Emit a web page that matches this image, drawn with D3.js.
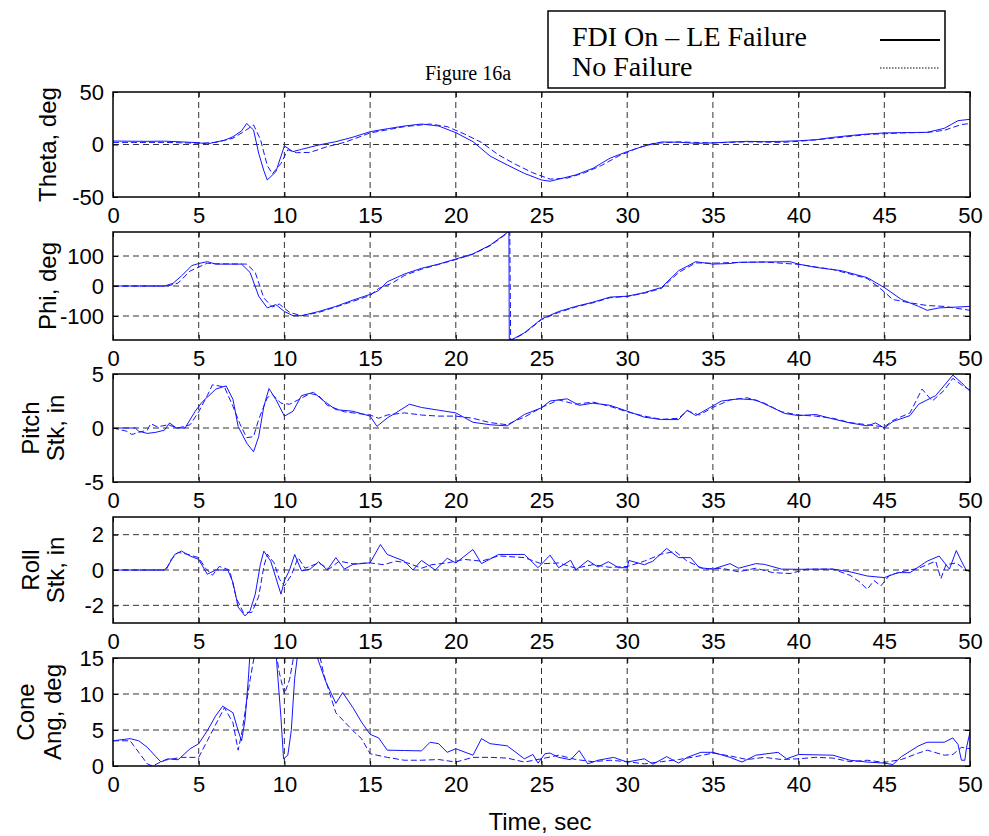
<!DOCTYPE html>
<html>
<head>
<meta charset="utf-8">
<script src="https://cdn.jsdelivr.net/npm/d3@7"></script>
<style>
  body { margin: 0; background: #fff; }
  svg { display: block; }
  .tick-label { font-family: Arial, "Liberation Sans", sans-serif; font-size: 22px; fill: #000; }
  .axis-title { font-family: Arial, "Liberation Sans", sans-serif; font-size: 24px; fill: #000; }
  .serif { font-family: "Times New Roman", "Liberation Serif", serif; fill: #000; }
</style>
</head>
<body>
<svg id="chart" width="989" height="836"></svg>
<script>
// time axis ticks (sec)
var timeTicks = [0, 5, 10, 15, 20, 25, 30, 35, 40, 45, 50];

// Theta, deg
var thetaFdi = [[0,3.3],[2,3],[3,3.2],[4,2.5],[5,1.7],[5.5,0.5],[6,2.4],[6.5,4],[7,7.4],[7.5,13],[7.8,20],[8.2,13.8],[8.5,-8.4],[8.8,-25],[9,-33.8],[9.5,-26],[10,-1.4],[10.5,-6.8],[11,-4.6],[12,-0.5],[13,2.7],[14,7],[15,12.2],[16,15],[17,17.6],[18,19.5],[19,17.6],[20,11.3],[21,2.7],[22,-11],[23,-19.5],[24,-27.5],[25,-33.8],[25.5,-35],[26,-33],[27,-29],[28,-22.7],[29,-13],[30,-6.8],[31,-1.4],[32,2.4],[33,2.2],[34,1.1],[35,1.5],[36,2.4],[37,3],[38,2.7],[39,3],[40,3.6],[41,4.5],[42,6.8],[43,8.5],[44,10],[45,11],[46,11.3],[47.5,11.6],[48.5,15.4],[49.3,22.7],[50,24]];
var thetaNoFail = [[0,2],[3,2],[5,1.2],[6,2],[7,6],[7.6,12],[8.2,18.6],[8.6,5],[9,-20],[9.3,-28],[9.8,-18],[10.2,-5],[10.7,-7.8],[11.5,-7.5],[12.5,-2],[13.5,2],[15,11],[17,17],[18.5,19.5],[19.5,17],[20.5,10],[21.5,2],[22.5,-10],[23.5,-19],[24.5,-27],[25.5,-33],[26.5,-32],[27.5,-27],[28.5,-20],[29.5,-11],[30.5,-4],[31.5,1],[33,2.5],[35,1.5],[37,2.5],[39,2],[40,3],[42,6],[44,9.5],[46,11],[47.5,11.5],[48.5,13.5],[49.5,19],[50,20]];

// Phi, deg
var phiFdi = [[0,0],[3,0],[3.5,9],[4,34],[4.6,68],[5,75],[5.5,81],[6,73],[7.5,73],[8,45],[8.5,-34],[9,-73],[9.5,-62],[10,-85],[10.5,-99],[11,-99],[12,-85],[13,-68],[14,-47],[15,-28],[15.5,-15],[16,14],[17,40],[18,59],[19,73],[20,90],[21,107],[22,136],[23,178],[23.1,180],[23.12,-180],[23.3,-178],[24,-156],[25,-110],[26,-85],[27,-68],[28,-54],[29,-37],[30,-34],[31,-22],[32,-5],[33,51],[34,81],[35,73],[36,75],[36.5,79],[38,80],[39.5,81],[40,73],[41,62],[42.5,51],[44,28],[45,-5],[46,-45],[47,-68],[47.5,-81],[48.2,-73],[50,-68]];
var phiNoFail = [[0,0],[3.2,0],[3.8,10],[4.5,50],[5.5,76],[6,74],[7.8,73],[8.3,45],[8.8,-40],[9.3,-70],[9.7,-60],[10.3,-88],[11,-99],[12,-88],[13,-70],[15,-32],[15.5,-8],[16.3,10],[17,35],[18,56],[19,72],[20,88],[21,106],[22,134],[23,176],[23.15,180],[23.2,-180],[23.4,-176],[24,-158],[25,-112],[26,-88],[27,-70],[28,-56],[29,-39],[30,-35],[31,-24],[32,-8],[33,45],[34,77],[35,76],[36,78],[38,80],[40,72],[42,55],[44,25],[44.8,-10],[45.5,-45],[46.5,-56],[47.5,-65],[48.5,-68],[50,-81]];

// Pitch stick, in
var pitchFdi = [[0,0],[1.3,0],[1.5,-0.3],[2,-0.5],[2.5,-0.4],[3,-0.2],[3.3,0.47],[3.7,0],[4.2,0],[4.8,1.56],[5.2,2.4],[6,3.6],[6.6,3.9],[7,2.65],[7.3,0.15],[7.8,-1.4],[8.2,-2.2],[8.5,-0.8],[8.8,2],[9.1,3.65],[9.5,2.65],[10,1.1],[10.5,1.55],[11,3],[11.7,3.3],[12.3,2.5],[13,1.7],[14,1.55],[15,1.1],[15.4,0.15],[16,0.93],[16.5,1.4],[17.3,2.2],[18,1.9],[19,1.65],[20,1.4],[21,0.53],[22,0.3],[23,0.2],[24,1.25],[25,1.87],[25.5,2.5],[26.5,2.7],[27.2,2.1],[28,2.3],[29,2.1],[30,1.56],[31,1],[32,0.78],[33,0.78],[33.5,1.65],[34,1.15],[34.7,1.78],[35.5,2.5],[36.5,2.7],[37.5,2.6],[38.5,1.87],[39.2,1.34],[40,1.15],[41,1.25],[42,0.84],[43,0.47],[44,0.2],[44.5,0.47],[45,0],[45.5,0.6],[46.5,1.15],[47,2.2],[48,3],[49,4.9],[49.5,4.2],[50,3.4]];
var pitchNoFail = [[0,0],[0.8,-0.3],[1.1,-0.6],[1.5,-0.4],[2,-0.2],[2.2,0.4],[2.6,0.1],[3.2,0.3],[3.8,0],[4.5,0.3],[5,1.5],[5.5,3],[5.8,4],[6.5,3.8],[7,2],[7.4,0.4],[7.8,-0.9],[8.2,-0.8],[8.5,0.8],[9,2.8],[9.3,3.1],[9.8,2.3],[10.3,2.2],[10.8,2.6],[11.5,3.2],[12,3],[12.5,2.1],[13.5,1.5],[14.5,1.3],[15,1.2],[15.5,0.9],[16,1.2],[17,1.4],[18,1.2],[19,1.1],[20,1.1],[21,0.9],[22,0.5],[23,0.3],[23.5,0.7],[24,1],[25,1.9],[26,2.6],[27,2.2],[28,2.4],[29,2],[30,1.5],[31,1.1],[32,0.8],[33,0.9],[33.5,1.6],[34.2,1.2],[35,1.9],[36,2.6],[37,2.8],[38,2.3],[39,1.5],[40,1.2],[41,1.1],[42,0.9],[43,0.5],[44,0.3],[45,0.1],[45.5,0.7],[46.5,1.4],[47.2,3.6],[47.8,2.5],[48.5,3.5],[49,4.6],[49.5,4],[50,3.5]];

// Roll stick, in
var rollFdi = [[0,0],[3,0],[3.2,0.22],[3.6,0.88],[4,1.07],[4.5,0.79],[5,0.6],[5.5,-0.24],[6,0],[6.7,0],[7,-0.7],[7.3,-2.1],[7.7,-2.6],[8,-2.3],[8.3,-1.37],[8.6,0.32],[8.8,1.07],[9.2,0.5],[9.5,-0.43],[9.8,-1.37],[10,-0.6],[10.3,0],[10.6,0.88],[11,-0.05],[11.5,0.05],[12,0.47],[12.5,0],[13,0.7],[13.5,0.05],[14,0.32],[15,0.41],[15.6,1.44],[16,0.88],[17,0.5],[17.5,0],[18,0.54],[18.8,0],[19.5,0.66],[20,0.4],[21,1.16],[21.5,0.36],[22.5,0.88],[24,0.88],[24.8,0.13],[25.5,0.84],[26,0.13],[26.7,0.55],[27,0],[27.7,0.54],[28.3,0.17],[28.9,0.47],[29.5,0.13],[30,0.13],[30.1,0.54],[31,0.3],[31.5,0.5],[32.3,1.22],[33,0.7],[33.7,0.7],[34.2,0.13],[35,0.05],[36,0.36],[36.5,0.1],[37.5,0.36],[38,0.32],[39,0.05],[40,0.04],[42,0.05],[43,-0.1],[44,-0.34],[45,-0.43],[45.8,-0.15],[46.5,-0.15],[47.5,0.5],[48.2,0.79],[48.8,0.05],[49.2,1.1],[49.5,0.5],[49.8,-0.05],[50,0]];
var rollNoFail = [[0,0],[3.1,0],[3.4,0.6],[3.8,1],[4.3,0.9],[5,0.7],[5.4,0.1],[5.8,-0.3],[6.2,0.2],[6.8,0],[7.2,-1.6],[7.6,-2.4],[8.1,-2.4],[8.5,-1.5],[8.8,0.2],[9,0.9],[9.4,0.4],[9.7,-0.5],[10,-0.9],[10.4,-0.3],[10.8,0.7],[11.2,0.1],[12,0.4],[12.6,0.05],[13.2,0.5],[14,0.35],[15,0.4],[15.8,0.3],[16.5,0.5],[17.2,0.4],[18,0.1],[18.6,0.3],[19.5,0.4],[20.5,0.6],[21.5,0.5],[22.5,0.8],[24,0.7],[25,0.35],[26,0.4],[27,0.1],[28,0.3],[29,0.15],[30,0.2],[31,0.5],[32,0.9],[32.8,1.05],[33.5,0.5],[34.5,0.05],[35.5,0.1],[36.5,-0.1],[37.5,0.1],[38.5,-0.15],[39.5,-0.2],[40.5,0.05],[42,0.05],[43,-0.3],[43.6,-0.7],[44,-1.1],[44.4,-0.6],[44.8,-0.9],[45.3,-0.3],[46,-0.1],[47,0.1],[48,0.5],[48.3,-0.5],[48.6,0.3],[49.2,0.4],[49.6,0.1],[50,-0.1]];

// Cone angle, deg
var coneFdi = [[0,3.5],[1,3.8],[1.5,3.5],[2,2.6],[2.5,1.3],[2.8,0.55],[3.2,1],[3.8,0.87],[4.5,2.4],[5,3.1],[5.5,4.9],[6,7],[6.4,8.3],[7,7.4],[7.3,4.9],[7.5,3.5],[7.7,6.3],[7.9,12.2],[8,16],[9.5,16],[9.8,6.7],[9.95,1],[10.2,1.5],[10.4,4.9],[10.6,12.2],[10.8,16],[11.8,16],[12,14.5],[12.4,11.8],[13,8.7],[13.4,10.2],[14,8.1],[14.5,6.1],[15,4.4],[15.5,3.9],[16,2.2],[17,2.15],[18,2.1],[18.5,3.3],[19,3.1],[19.5,1.9],[20,2.4],[21,1.5],[21.5,3.8],[22,3.1],[23,2.8],[24,1],[24.5,1.6],[24.8,0.4],[25.2,1.7],[25.5,1.8],[26,1.2],[26.7,0.87],[27.2,2.15],[27.7,0.3],[28.3,0.8],[29.2,1.2],[30,0.55],[31,1],[31.5,0.25],[32.3,1.3],[33,0.4],[33.5,1.2],[34.3,1.9],[35,1.9],[36,1.2],[36.7,0.55],[37.5,1.5],[38.8,1.9],[39.3,1],[40,1.6],[42,1.5],[43,0.8],[44,0.55],[45,0.4],[45.5,0.2],[46,1.3],[47,2.8],[47.5,3.3],[48.5,3.3],[49,3.9],[49.3,3],[49.5,0.8],[49.7,0.8],[49.8,2.6],[50,4.7]];
var coneNoFail = [[0,3.5],[1,3.5],[1.5,1.9],[2,0.3],[2.3,0],[3,0.8],[4,1.2],[5,1.2],[5.5,3.5],[6.5,8.1],[7,6],[7.3,2.2],[7.5,4.4],[8,12],[8.3,16],[9.5,16],[9.7,13],[10,10],[10.3,12],[10.6,16],[12,16],[12.3,12.7],[13,7.4],[14,4.9],[14.5,3.8],[15,1.7],[16,1.2],[17,0.8],[18,0.8],[19,0.9],[20,0.55],[21,1.2],[22,1.2],[23,1.1],[24,0.55],[25,1],[26,1.5],[27,0.9],[28,0.6],[29,0.8],[30,0.6],[31,0.3],[32,0.6],[33,0.9],[34,1.3],[35,1.8],[36,1.4],[37,0.9],[38,1.2],[39,0.9],[40,1],[41,1.2],[42,1.1],[43,0.6],[44,0.8],[45,0.5],[46,0.9],[47,1.8],[47.5,2.2],[48.5,1.5],[49,1.6],[49.5,2.6],[50,2.4]];

// panel setup: labels, y ranges, y ticks
var panelLabels = [["Theta, deg"], ["Phi, deg"], ["Pitch", "Stk, in"], ["Roll", "Stk, in"], ["Cone", "Ang, deg"]];
var panelDomains = [[-50, 50], [-180, 180], [-5, 5], [-3, 3], [0, 15]];
var panelTicks = [[-50, 0, 50], [-100, 0, 100], [-5, 0, 5], [-2, 0, 2], [0, 5, 10, 15]];
var solidSeries = [thetaFdi, phiFdi, pitchFdi, rollFdi, coneFdi];
var dashedSeries = [thetaNoFail, phiNoFail, pitchNoFail, rollNoFail, coneNoFail];

var svg = d3.select("#chart");
var left = 113, right = 970;
var tops = [92, 232, 374, 517, 658];
var bottoms = [197, 340, 482, 623, 766];
var blue = "#1414ff";
var fmt = function (d) { return String(d); };   // plain hyphen minus like MATLAB

var x = d3.scaleLinear().domain([0, 50]).range([left, right]);

panelLabels.forEach(function (lab, i) {
    var top = tops[i], bot = bottoms[i];
    var y = d3.scaleLinear().domain(panelDomains[i]).range([bot, top]);
    var g = svg.append("g");

    g.append("clipPath").attr("id", "clip" + i)
        .append("rect").attr("x", left).attr("y", top)
        .attr("width", right - left).attr("height", bot - top);

    // grid
    g.selectAll(".vg").data(timeTicks.slice(1, -1)).enter().append("line")
        .attr("x1", function (d) { return x(d); }).attr("x2", function (d) { return x(d); })
        .attr("y1", top).attr("y2", bot)
        .attr("stroke", "#333").attr("stroke-width", 1).attr("stroke-dasharray", "6,4");
    g.selectAll(".hg").data(panelTicks[i].filter(function (d) { return d > panelDomains[i][0] && d < panelDomains[i][1]; }))
        .enter().append("line")
        .attr("x1", left).attr("x2", right)
        .attr("y1", function (d) { return y(d); }).attr("y2", function (d) { return y(d); })
        .attr("stroke", "#333").attr("stroke-width", 1).attr("stroke-dasharray", "6,4");

    // data
    var line = d3.line().x(function (d) { return x(d[0]); }).y(function (d) { return y(d[1]); });
    var plot = g.append("g").attr("clip-path", "url(#clip" + i + ")");
    plot.append("path").datum(dashedSeries[i]).attr("d", line)
        .attr("fill", "none").attr("stroke", blue).attr("stroke-width", 1)
        .attr("stroke-dasharray", "6,3");
    plot.append("path").datum(solidSeries[i]).attr("d", line)
        .attr("fill", "none").attr("stroke", blue).attr("stroke-width", 1);

    // axes (ticks inward, labels outside)
    var xb = d3.axisBottom(x).tickValues(timeTicks).tickSize(-5).tickPadding(10).tickFormat(fmt);
    var xt = d3.axisTop(x).tickValues(timeTicks).tickSize(-5).tickFormat("");
    var yl = d3.axisLeft(y).tickValues(panelTicks[i]).tickSize(-5).tickPadding(9).tickFormat(fmt);
    var yr = d3.axisRight(y).tickValues(panelTicks[i]).tickSize(-5).tickFormat("");
    [[xb, "translate(0," + bot + ")"], [xt, "translate(0," + top + ")"],
     [yl, "translate(" + left + ",0)"], [yr, "translate(" + right + ",0)"]].forEach(function (a) {
        var ax = g.append("g").attr("transform", a[1]).call(a[0]);
        ax.select(".domain").remove();
        ax.selectAll("line").attr("stroke", "#000");
        ax.selectAll("text").attr("class", "tick-label").attr("font-size", null).attr("font-family", null);
    });

    g.append("rect").attr("x", left).attr("y", top)
        .attr("width", right - left).attr("height", bot - top)
        .attr("fill", "none").attr("stroke", "#000").attr("stroke-width", 1.5);

    // y label
    var cy = (top + bot) / 2;
    var xs = lab.length === 1 ? [47] : (i === 4 ? [25, 52] : [30, 55]);
    lab.forEach(function (t, k) {
        svg.append("text").attr("class", "axis-title")
            .attr("transform", "translate(" + (xs[k] + 9) + "," + cy + ") rotate(-90)")
            .attr("text-anchor", "middle").text(t);
    });
});

svg.append("text").attr("class", "axis-title").attr("x", 540).attr("y", 830)
    .attr("text-anchor", "middle").text("Time, sec");

svg.append("text").attr("class", "serif").attr("x", 468).attr("y", 80)
    .attr("text-anchor", "middle").attr("font-size", 20).text("Figure 16a");

// legend
var lg = svg.append("g");
lg.append("rect").attr("x", 548).attr("y", 11).attr("width", 397).attr("height", 77)
    .attr("fill", "#fff").attr("stroke", "#000").attr("stroke-width", 1.5);
lg.append("text").attr("class", "serif").attr("x", 572).attr("y", 46).attr("font-size", 28)
    .text("FDI On \u2013 LE Failure");
lg.append("text").attr("class", "serif").attr("x", 572).attr("y", 76).attr("font-size", 28)
    .text("No Failure");
lg.append("line").attr("x1", 880).attr("x2", 940).attr("y1", 40).attr("y2", 40)
    .attr("stroke", "#000").attr("stroke-width", 2);
lg.append("line").attr("x1", 880).attr("x2", 940).attr("y1", 68).attr("y2", 68)
    .attr("stroke", "#000").attr("stroke-width", 1).attr("stroke-dasharray", "1.5,1.5");
</script>
</body>
</html>
